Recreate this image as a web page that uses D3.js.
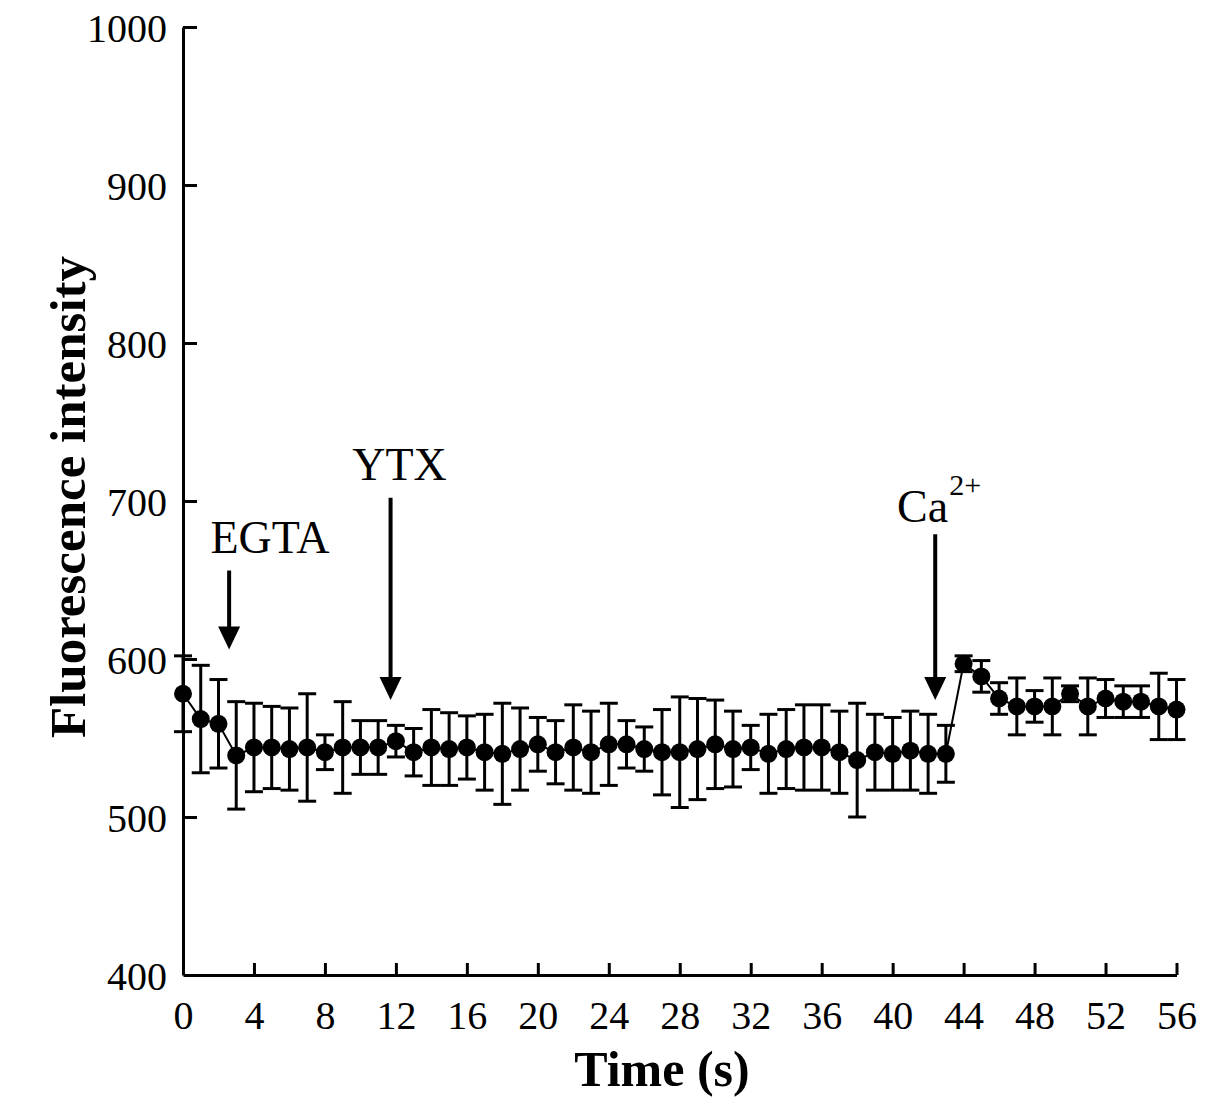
<!DOCTYPE html>
<html>
<head>
<meta charset="utf-8">
<script src="https://cdn.jsdelivr.net/npm/d3@7"></script>
<style>
  body { margin: 0; background: #fff; }
  svg text { font-family: "Liberation Serif", "Times New Roman", serif; fill: #000; }
</style>
</head>
<body>
<svg id="chart" width="1205" height="1108"></svg>
<script>
// time points (s)
const times = [0, 1, 2, 3, 4, 5, 6, 7, 8, 9, 10, 11, 12, 13, 14, 15, 16, 17, 18, 19,
  20, 21, 22, 23, 24, 25, 26, 27, 28, 29, 30, 31, 32, 33, 34, 35, 36, 37, 38, 39,
  40, 41, 42, 43, 44, 45, 46, 47, 48, 49, 50, 51, 52, 53, 54, 55, 56];

// mean fluorescence
const means = [578, 562, 559, 539, 544, 544, 543, 544, 541, 544, 544, 544, 548, 541, 544, 543, 544, 541, 540, 543,
  546, 541, 544, 541, 546, 546, 543, 541, 541, 543, 546, 543, 544, 540, 543, 544, 544, 541, 536, 541,
  540, 542, 540, 540, 597, 589, 575, 570, 570, 570, 578, 570, 575, 573, 573, 570, 568];

// error (+/-)
const errors = [24, 34, 28, 34, 28, 26, 26, 34, 11, 29, 17, 17, 10, 15, 24, 23, 20, 24, 32, 26,
  17, 20, 27, 26, 26, 15, 14, 27, 35, 32, 28, 24, 14, 25, 25, 27, 27, 26, 36, 24,
  23, 25, 25, 18, 5, 10, 10, 18, 10, 18, 5, 18, 12, 10, 10, 21, 19];

const xTicks = [0, 4, 8, 12, 16, 20, 24, 28, 32, 36, 40, 44, 48, 52, 56];
const yTicks = [400, 500, 600, 700, 800, 900, 1000];

// arrows: time, value at start, value at tip
const arrowT = [2.6, 11.7, 42.4];
const arrowFrom = [656, 702, 679];
const arrowTo = [606, 574, 574];

// labels over arrows
const labelText = ["EGTA", "YTX", "Ca"];
const labelT = [4.9, 12.2, 40.25];
const labelV = [667, 713, 687];

const svg = d3.select("#chart");

const x = d3.scaleLinear().domain([0, 56]).range([183, 1176.5]);
const y = d3.scaleLinear().domain([400, 1000]).range([975, 27]);

const data = times.map((t, i) => ({ t: t, v: means[i], e: errors[i] }));

// axes, ticks inward
const xAxis = svg.append("g")
    .attr("transform", "translate(0," + y(400) + ")")
    .call(d3.axisBottom(x).tickValues(xTicks).tickFormat(d3.format("d"))
        .tickSize(-12).tickSizeOuter(0).tickPadding(26));

const yAxis = svg.append("g")
    .attr("transform", "translate(" + x(0) + ",0)")
    .call(d3.axisLeft(y).tickValues(yTicks).tickFormat(d3.format("d"))
        .tickSize(-14).tickSizeOuter(0).tickPadding(30));

[xAxis, yAxis].forEach(function (g) {
    g.select(".domain").attr("stroke", "#000").attr("stroke-width", 3);
    g.selectAll(".tick line").attr("stroke", "#000").attr("stroke-width", 3);
    g.selectAll(".tick text")
        .style("font-size", "40px")
        .style("font-family", "'Liberation Serif', 'Times New Roman', serif");
});
xAxis.selectAll(".tick text").attr("dy", "0.71em");
yAxis.selectAll(".tick text").attr("x", -16).attr("dy", "0.35em");
// hide 400 tick line overlapping x axis
yAxis.selectAll(".tick").filter(d => d === 400).select("line").remove();

// connecting line
svg.append("path")
    .datum(data)
    .attr("fill", "none")
    .attr("stroke", "#000")
    .attr("stroke-width", 2)
    .attr("d", d3.line().x(d => x(d.t)).y(d => y(d.v)));

// error bars
const bars = svg.append("g").selectAll("g")
    .data(data)
    .enter()
    .append("g")
    .attr("stroke", "#000")
    .attr("stroke-width", 3);

bars.append("line")
    .attr("x1", d => x(d.t)).attr("x2", d => x(d.t))
    .attr("y1", d => y(d.v - d.e)).attr("y2", d => y(d.v + d.e));
bars.append("line")
    .attr("x1", d => x(d.t) - 9).attr("x2", d => x(d.t) + 9)
    .attr("y1", d => y(d.v + d.e)).attr("y2", d => y(d.v + d.e));
bars.append("line")
    .attr("x1", d => x(d.t) - 9).attr("x2", d => x(d.t) + 9)
    .attr("y1", d => y(d.v - d.e)).attr("y2", d => y(d.v - d.e));

// markers
svg.append("g").selectAll("circle")
    .data(data)
    .enter()
    .append("circle")
    .attr("cx", d => x(d.t))
    .attr("cy", d => y(d.v))
    .attr("r", 9)
    .attr("fill", "#000");

// arrows
arrowT.forEach(function (t, i) {
    let ax = x(t);
    let y0 = y(arrowFrom[i]);
    let y1 = y(arrowTo[i]);
    svg.append("line")
        .attr("x1", ax).attr("x2", ax)
        .attr("y1", y0).attr("y2", y1 - 20)
        .attr("stroke", "#000")
        .attr("stroke-width", 4);
    svg.append("path")
        .attr("d", `M${ax - 11},${y1 - 23}L${ax + 11},${y1 - 23}L${ax},${y1}Z`)
        .attr("fill", "#000");
});

// labels
labelText.forEach(function (s, i) {
    let txt = svg.append("text")
        .attr("x", x(labelT[i]))
        .attr("y", y(labelV[i]))
        .attr("text-anchor", s === "Ca" ? "start" : "middle")
        .style("font-size", "46px")
        .text(s);
    if (s === "Ca") {
        txt.append("tspan")
            .attr("dy", -27)
            .attr("dx", 1)
            .style("font-size", "30px")
            .text("2+");
    }
});

// axis titles
svg.append("text")
    .attr("x", 662)
    .attr("y", 1086)
    .attr("text-anchor", "middle")
    .style("font-size", "50px")
    .style("font-weight", "bold")
    .text("Time (s)");

svg.append("text")
    .attr("transform", "translate(85,497) rotate(-90)")
    .attr("text-anchor", "middle")
    .style("font-size", "51px")
    .style("font-weight", "bold")
    .text("Fluorescence intensity");
</script>
</body>
</html>
